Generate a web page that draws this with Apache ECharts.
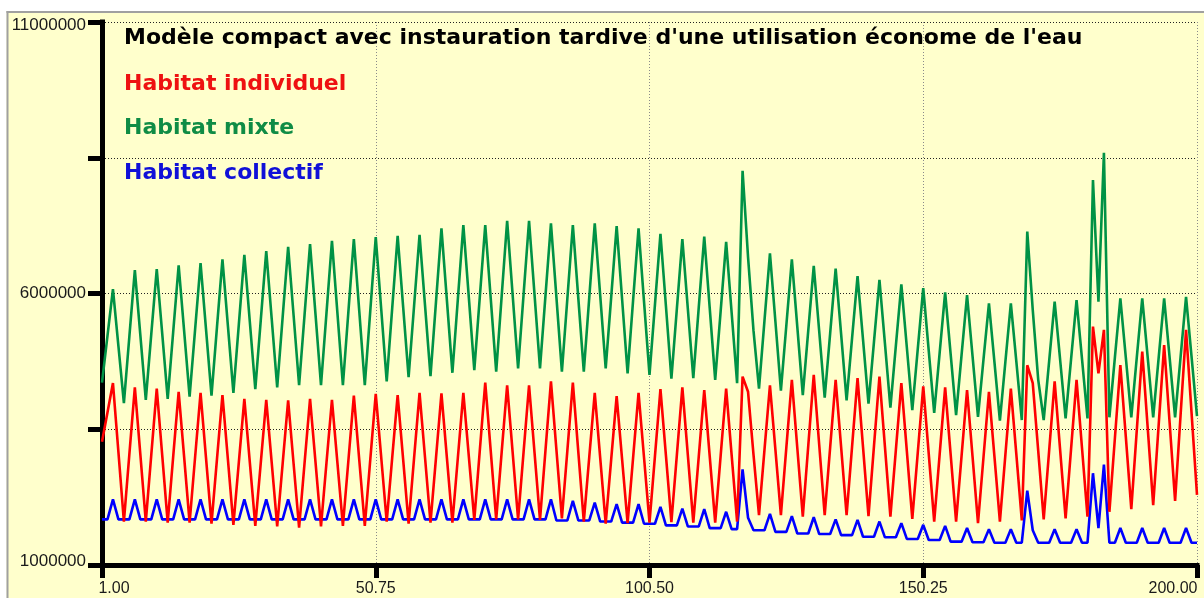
<!DOCTYPE html>
<html>
<head>
<meta charset="utf-8">
<script src="https://cdn.jsdelivr.net/npm/echarts@6/dist/echarts.min.js"></script>
<style>
  html, body { margin: 0; padding: 0; background: #fff; }
  #chart { width: 1204px; height: 598px; }
</style>
</head>
<body>
<div id="chart"></div>
<script>
// Simulated daily demand (m3) for three housing types, 201 samples from t = 1 to t = 200.
// Values are in millions; each cycle lists [rise, peak, fall, trough].
const titleText = "Modèle compact avec instauration tardive d'une utilisation économe de l'eau";
const seriesNames = ['Habitat individuel', 'Habitat mixte', 'Habitat collectif'];

const tStart = 1, tEnd = 200, sampleCount = 201;
const sampleTimes = Array.from({ length: sampleCount },
  (_, j) => +(tStart + j * (tEnd - tStart) / (sampleCount - 1)).toFixed(3));

const habitatMixte = [
  4.36,
  5.22, 6.08, 5.03, 3.98,  5.21, 6.43, 5.24, 4.04,  5.25, 6.45, 5.26, 4.06,  5.29, 6.52, 5.31, 4.10,
  5.33, 6.56, 5.34, 4.12,  5.38, 6.63, 5.40, 4.17,  5.44, 6.71, 5.48, 4.24,  5.51, 6.78, 5.53, 4.27,
  5.57, 6.86, 5.59, 4.31,  5.61, 6.91, 5.61, 4.31,  5.64, 6.97, 5.64, 4.31,  5.66, 7.00, 5.66, 4.31,
  5.68, 7.04, 5.71, 4.38,  5.72, 7.06, 5.76, 4.46,  5.77, 7.08, 5.78, 4.48,  5.84, 7.20, 5.87, 4.54,
  5.90, 7.26, 5.93, 4.59,  5.93, 7.26, 5.91, 4.56,  5.95, 7.34, 5.98, 4.62,  5.98, 7.34, 5.98, 4.62,
  5.96, 7.29, 5.93, 4.56,  5.91, 7.26, 5.91, 4.56,  5.93, 7.29, 5.96, 4.62,  5.93, 7.24, 5.89, 4.53,
  5.87, 7.20, 5.85, 4.50,  5.80, 7.10, 5.77, 4.43,  5.72, 7.00, 5.72, 4.44,  5.75, 7.05, 5.73, 4.41,
  5.68, 6.95, 5.65, 4.35,  8.26, 6.67, 5.31, 4.25,  5.50, 6.74, 5.48, 4.21,  5.42, 6.63, 5.38, 4.13,
  5.32, 6.51, 5.30, 4.08,  5.27, 6.46, 5.25, 4.03,  5.18, 6.32, 5.15, 3.97,  5.11, 6.25, 5.08, 3.90,
  5.04, 6.17, 5.01, 3.85,  4.98, 6.10, 4.95, 3.80,  4.91, 6.02, 4.89, 3.76,  4.87, 5.97, 4.85, 3.73,
  4.78, 5.82, 4.74, 3.66,  4.74, 5.82, 4.75, 3.67,  7.14, 5.70, 4.41, 3.67,  4.76, 5.85, 4.78, 3.70,
  4.79, 5.88, 4.79, 3.70,  8.09, 5.85, 8.59, 3.72,  4.82, 5.91, 4.82, 3.72,  4.82, 5.91, 4.82, 3.72,
  4.82, 5.91, 4.82, 3.72,  4.83, 5.94, 4.84, 3.74
];

const habitatIndividuel = [
  3.27,
  3.81, 4.35, 3.08, 1.80,  3.04, 4.27, 3.04, 1.80,  3.03, 4.25, 3.02, 1.78,  2.99, 4.19, 2.99, 1.78,
  2.98, 4.17, 2.97, 1.76,  2.95, 4.13, 2.94, 1.74,  2.90, 4.06, 2.89, 1.72,  2.88, 4.04, 2.88, 1.71,
  2.87, 4.03, 2.86, 1.69,  2.88, 4.06, 2.89, 1.71,  2.88, 4.04, 2.88, 1.72,  2.92, 4.12, 2.92, 1.72,
  2.94, 4.15, 2.98, 1.80,  2.97, 4.13, 2.95, 1.76,  2.97, 4.17, 2.98, 1.78,  2.97, 4.16, 2.97, 1.78,
  2.98, 4.17, 3.00, 1.83,  3.10, 4.36, 3.10, 1.84,  3.08, 4.31, 3.08, 1.84,  3.08, 4.31, 3.07, 1.83,
  3.11, 4.38, 3.12, 1.86,  3.11, 4.36, 3.08, 1.80,  2.99, 4.17, 2.97, 1.76,  2.94, 4.11, 2.94, 1.77,
  2.97, 4.17, 2.98, 1.78,  3.01, 4.24, 3.02, 1.79,  3.03, 4.27, 3.03, 1.78,  3.00, 4.22, 3.00, 1.78,
  3.02, 4.25, 3.03, 1.80,  4.47, 4.19, 3.03, 1.92,  3.12, 4.31, 3.12, 1.92,  3.17, 4.41, 3.15, 1.89,
  3.20, 4.50, 3.21, 1.92,  3.17, 4.41, 3.17, 1.92,  3.18, 4.44, 3.17, 1.90,  3.19, 4.47, 3.18, 1.89,
  3.12, 4.35, 3.10, 1.85,  3.07, 4.29, 3.05, 1.80,  3.04, 4.27, 3.04, 1.80,  3.01, 4.22, 3.00, 1.77,
  2.98, 4.19, 3.00, 1.80,  3.03, 4.25, 3.04, 1.82,  4.68, 4.35, 3.10, 1.84,  3.11, 4.38, 3.12, 1.86,
  3.14, 4.41, 3.15, 1.89,  5.39, 4.53, 5.33, 1.98,  3.33, 4.68, 3.36, 2.03,  3.48, 4.93, 3.52, 2.10,
  3.58, 5.05, 3.62, 2.18,  3.76, 5.33, 3.81, 2.29
];

const habitatCollectif = [
  1.84,
  1.84, 2.21, 1.84, 1.84,  1.84, 2.21, 1.84, 1.84,  1.84, 2.21, 1.84, 1.84,  1.84, 2.21, 1.84, 1.84,
  1.84, 2.21, 1.84, 1.84,  1.84, 2.21, 1.84, 1.84,  1.84, 2.21, 1.84, 1.84,  1.84, 2.21, 1.84, 1.84,
  1.84, 2.21, 1.84, 1.84,  1.84, 2.21, 1.84, 1.84,  1.84, 2.21, 1.84, 1.84,  1.84, 2.21, 1.84, 1.84,
  1.84, 2.21, 1.84, 1.84,  1.84, 2.21, 1.84, 1.84,  1.84, 2.21, 1.84, 1.84,  1.84, 2.21, 1.84, 1.84,
  1.84, 2.21, 1.84, 1.84,  1.84, 2.21, 1.84, 1.84,  1.84, 2.21, 1.84, 1.84,  1.84, 2.21, 1.84, 1.84,
  1.84, 2.21, 1.82, 1.82,  1.82, 2.18, 1.82, 1.82,  1.82, 2.15, 1.80, 1.80,  1.80, 2.12, 1.78, 1.78,
  1.78, 2.12, 1.76, 1.76,  1.76, 2.07, 1.73, 1.73,  1.73, 2.04, 1.71, 1.71,  1.71, 2.03, 1.68, 1.68,
  1.68, 1.98, 1.66, 1.66,  2.76, 1.87, 1.64, 1.64,  1.64, 1.94, 1.61, 1.61,  1.61, 1.90, 1.58, 1.58,
  1.58, 1.88, 1.57, 1.57,  1.57, 1.84, 1.55, 1.55,  1.55, 1.83, 1.52, 1.52,  1.52, 1.80, 1.51, 1.51,
  1.51, 1.77, 1.48, 1.48,  1.48, 1.74, 1.46, 1.46,  1.46, 1.72, 1.43, 1.43,  1.43, 1.68, 1.42, 1.42,
  1.42, 1.66, 1.41, 1.41,  1.41, 1.66, 1.41, 1.41,  2.37, 1.64, 1.41, 1.41,  1.41, 1.66, 1.41, 1.41,
  1.41, 1.66, 1.41, 1.41,  2.69, 1.68, 2.85, 1.41,  1.41, 1.68, 1.41, 1.41,  1.41, 1.68, 1.41, 1.41,
  1.41, 1.68, 1.41, 1.41,  1.41, 1.68, 1.41, 1.41
];

const yTickLabels = [1000000, 6000000, 11000000];
const xTickLabels = ['1.00', '50.75', '100.50', '150.25', '200.00'];

[habitatMixte, habitatIndividuel, habitatCollectif].forEach((a, i) => {
  if (a.length !== sampleCount) console.error('series ' + i + ' has ' + a.length + ' samples');
});

const MILLION = 1e6;
const toPairs = arr => sampleTimes.map((t, j) => [t, arr[j] * MILLION]);

const xLabelFont = { fontFamily: '"Liberation Sans", Arial, sans-serif', fontSize: 16, color: '#1a1a1a' };
const yLabelFont = { fontFamily: '"Liberation Sans", Arial, sans-serif', fontSize: 17, color: '#1a1a1a' };
const headFont = '"DejaVu Sans", Verdana, sans-serif';

const chart = echarts.init(document.getElementById('chart'), null, { renderer: 'canvas' });

chart.setOption({
  animation: false,
  backgroundColor: '#FFFFCC',
  grid: { left: 102, right: 7, top: 22, bottom: 33, containLabel: false },
  xAxis: {
    type: 'value',
    min: 1, max: 200, interval: 49.75,
    axisLine: { show: true, onZero: false, lineStyle: { color: '#000', width: 5, cap: 'square' } },
    axisTick: { show: true, inside: false, length: 13, lineStyle: { color: '#000', width: 5 } },
    splitLine: { show: true, lineStyle: { color: '#8a8a8a', width: 1, type: [1, 2] } },
    axisLabel: Object.assign({}, xLabelFont, {
      margin: 16,
      showMinLabel: true, showMaxLabel: true,
      formatter: v => {
        const idx = Math.round((v - 1) / 49.75);
        const s = xTickLabels[idx];
        if (idx === 0) return '{first|' + s + '}';
        if (idx === xTickLabels.length - 1) return '{last|' + s + '}';
        return s;
      },
      rich: {
        first: Object.assign({}, xLabelFont, { padding: [0, 0, 0, 24] }),
        last: Object.assign({}, xLabelFont, { padding: [0, 48, 0, 0] })
      }
    })
  },
  yAxis: {
    type: 'value',
    min: 1000000, max: 11000000, interval: 2500000,
    axisLine: { show: true, onZero: false, lineStyle: { color: '#000', width: 5, cap: 'square' } },
    axisTick: { show: true, inside: false, length: 14, lineStyle: { color: '#000', width: 5 } },
    splitLine: { show: true, lineStyle: { color: '#222', width: 1, type: [1, 2] } },
    axisLabel: Object.assign({}, yLabelFont, {
      margin: 16,
      showMinLabel: true, showMaxLabel: true,
      formatter: v => {
        if (!yTickLabels.includes(v)) return '';
        if (v === yTickLabels[0]) return '{lo|' + v + '}';
        if (v === yTickLabels[yTickLabels.length - 1]) return '{hi|' + v + '}';
        return String(v);
      },
      rich: {
        lo: Object.assign({}, yLabelFont, { padding: [0, 0, 8, 0] }),
        hi: Object.assign({}, yLabelFont, { padding: [6, 0, 0, 0] })
      }
    })
  },
  series: [
    { name: seriesNames[2], type: 'line', data: toPairs(habitatCollectif), symbol: 'none',
      lineStyle: { color: '#0000ff', width: 2.6 }, z: 2 },
    { name: seriesNames[1], type: 'line', data: toPairs(habitatMixte), symbol: 'none',
      lineStyle: { color: '#009245', width: 2.6 }, z: 3 },
    { name: seriesNames[0], type: 'line', data: toPairs(habitatIndividuel), symbol: 'none',
      lineStyle: { color: '#ff0000', width: 2.6 }, z: 4 }
  ],
  graphic: [
    { type: 'rect', shape: { x: 0, y: 0, width: 1204, height: 11 }, style: { fill: '#ffffff' }, silent: true },
    { type: 'rect', shape: { x: 0, y: 0, width: 6.5, height: 598 }, style: { fill: '#ffffff' }, silent: true },
    { type: 'line', shape: { x1: 6.5, y1: 12, x2: 1204, y2: 12 }, style: { stroke: '#a0a0a0', lineWidth: 2 }, silent: true },
    { type: 'line', shape: { x1: 7.5, y1: 11, x2: 7.5, y2: 598 }, style: { stroke: '#a0a0a0', lineWidth: 2 }, silent: true },
    { type: 'text', x: 124, y: 38, silent: true,
      style: { text: titleText, fill: '#000000', font: 'bold 22px ' + headFont, align: 'left', verticalAlign: 'middle' } },
    { type: 'text', x: 124, y: 84, silent: true,
      style: { text: seriesNames[0], fill: '#ee1111', font: 'bold 22px ' + headFont, align: 'left', verticalAlign: 'middle' } },
    { type: 'text', x: 124, y: 128.5, silent: true,
      style: { text: seriesNames[1], fill: '#0f8c45', font: 'bold 22px ' + headFont, align: 'left', verticalAlign: 'middle' } },
    { type: 'text', x: 124, y: 173.5, silent: true,
      style: { text: seriesNames[2], fill: '#1010d8', font: 'bold 22px ' + headFont, align: 'left', verticalAlign: 'middle' } }
  ]
});
</script>
</body>
</html>
